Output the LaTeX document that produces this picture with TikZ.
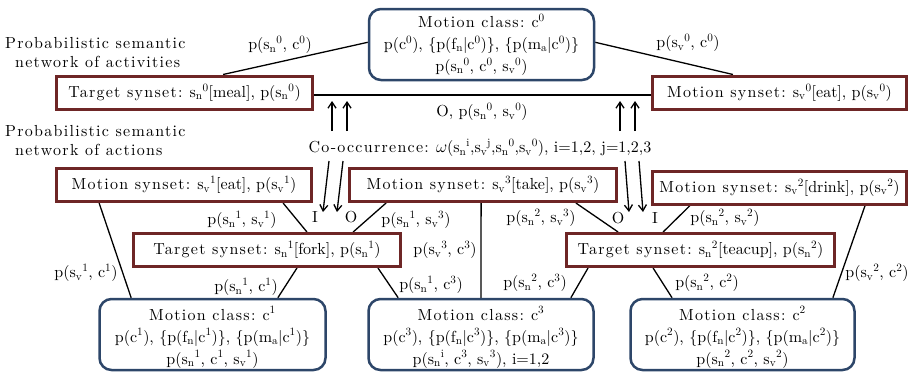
\documentclass[tikz,border=0pt]{standalone}
\usepackage{fontspec}
\setmainfont{lmroman10-regular.otf}
\usetikzlibrary{arrows.meta,calc}
\definecolor{synred}{RGB}{110,38,38}
\definecolor{clsblue}{RGB}{45,70,105}
\newcommand\Sn[1]{s\textsubscript{n}\textsuperscript{#1}}
\newcommand\Sv[1]{s\textsubscript{v}\textsuperscript{#1}}
\newcommand\Cc[1]{c\textsuperscript{#1}}
\newcommand\Wd[1]{{\addfontfeature{LetterSpace=8}#1}}
\pgfdeclarelayer{paper}
\pgfdeclarelayer{bg}
\pgfsetlayers{paper,bg,main}
\begin{document}
\begin{tikzpicture}[x=1pt,y=-1pt,
  font=\fontsize{16}{22}\selectfont,
  synbox/.style={draw=synred, line width=3pt, inner sep=0pt, fill=white, minimum height=33pt},
  clsbox/.style={draw=clsblue, line width=2.5pt, rounded corners=12pt, inner sep=0pt, align=center, fill=white, minimum height=71pt},
  lbl/.style={inner sep=0pt},
  conn/.style={line width=1.3pt},
  arr/.style={line width=1.3pt, -{Straight Barb[length=6pt,width=8pt]}}]
\begin{pgfonlayer}{paper}
\fill[white] (0,0) rectangle (918,376);
\end{pgfonlayer}
\useasboundingbox (0,0) rectangle (918,376);

% activity level
\node[clsbox, minimum width=225pt] (c0) at (481.5,44.5)
  {\Wd{Motion class:} \Cc{0}\\p(\Cc{0}), \{p(f\textsubscript{n}|\Cc{0})\}, \{p(m\textsubscript{a}|\Cc{0})\}\\p(\Sn{0}, \Cc{0}, \Sv{0})};
\node[synbox, minimum width=256pt] (tn0) at (184.5,92.5) {\Wd{Target synset:} \Sn{0}[meal], p(\Sn{0})};
\node[synbox, minimum width=254pt] (sv0) at (779.5,92.5) {\Wd{Motion synset:} \Sv{0}[eat], p(\Sv{0})};

\node[lbl, anchor=west, align=left, font=\fontsize{16}{19}\selectfont] (pa) at (5,53)
  {\Wd{Probabilistic semantic}\\\hspace*{10pt}\Wd{network of activities}};
\node[lbl, anchor=west, align=left, font=\fontsize{16}{19}\selectfont] (pb) at (5,141)
  {\Wd{Probabilistic semantic}\\\hspace*{10pt}\Wd{network of actions}};

\node[lbl] (l0a) at (280,45) {p(\Sn{0}, \Cc{0})};
\node[lbl] (l0b) at (688,43) {p(\Sv{0}, \Cc{0})};
\node[lbl] (l0c) at (482,112) {O, p(\Sn{0}, \Sv{0})};
\node[lbl] (cooc) at (480,148)
  {\Wd{Co-occurrence:} $\omega$(\Sn{i},\Sv{j},\Sn{0},\Sv{0}), i=1,2, j=1,2,3};

% action level
\node[synbox, minimum width=255pt] (sv1) at (184,185) {\Wd{Motion synset:} \Sv{1}[eat], p(\Sv{1})};
\node[synbox, minimum width=267pt] (sv3) at (483,185) {\Wd{Motion synset:} \Sv{3}[take], p(\Sv{3})};
\node[synbox, minimum width=254pt] (sv2) at (779.5,187.5) {\Wd{Motion synset:} \Sv{2}[drink], p(\Sv{2})};
\node[synbox, minimum width=267pt] (tn1) at (267,250) {\Wd{Target synset:} \Sn{1}[fork], p(\Sn{1})};
\node[synbox, minimum width=268pt] (tn2) at (700.5,250) {\Wd{Target synset:} \Sn{2}[teacup], p(\Sn{2})};

\node[clsbox, minimum width=226pt] (c1) at (212.5,334.5)
  {\rule{0pt}{19pt}\Wd{Motion class:} \Cc{1}\\p(\Cc{1}), \{p(f\textsubscript{n}|\Cc{1})\}, \{p(m\textsubscript{a}|\Cc{1})\}\\p(\Sn{1}, \Cc{1}, \Sv{1})};
\node[clsbox, minimum width=225pt] (c3) at (481,334.5)
  {\rule{0pt}{19pt}\Wd{Motion class:} \Cc{3}\\p(\Cc{3}), \{p(f\textsubscript{n}|\Cc{3})\}, \{p(m\textsubscript{a}|\Cc{3})\}\\p(\Sn{i}, \Cc{3}, \Sv{3}), i=1,2};
\node[clsbox, minimum width=224pt] (c2) at (742.5,334.5)
  {\rule{0pt}{19pt}\Wd{Motion class:} \Cc{2}\\p(\Cc{2}), \{p(f\textsubscript{n}|\Cc{2})\}, \{p(m\textsubscript{a}|\Cc{2})\}\\p(\Sn{2}, \Cc{2}, \Sv{2})};

\node[lbl] (la) at (242,220) {p(\Sn{1}, \Sv{1})};
\node[lbl] (lb) at (416,220) {p(\Sn{1}, \Sv{3})};
\node[lbl] (lc) at (445,250) {p(\Sv{3}, \Cc{3})};
\node[lbl] (ld) at (431,285) {p(\Sn{1}, \Cc{3})};
\node[lbl] (le) at (246,287) {p(\Sn{1}, \Cc{1})};
\node[lbl] (lf) at (86,273) {p(\Sv{1}, \Cc{1})};
\node[lbl] (lg) at (541,218) {p(\Sn{2}, \Sv{3})};
\node[lbl] (lh) at (725,218) {p(\Sn{2}, \Sv{2})};
\node[lbl] (li) at (535,283) {p(\Sn{2}, \Cc{3})};
\node[lbl] (lj) at (707,283) {p(\Sn{2}, \Cc{2})};
\node[lbl] (lk) at (877,273) {p(\Sv{2}, \Cc{2})};

\node[lbl] (i1) at (315,217) {I};
\node[lbl] (o1) at (351,217) {O};
\node[lbl] (o2) at (618,218) {O};
\node[lbl] (i2) at (655,218) {I};

% arrow end points
\coordinate (u1s) at (332,131); \coordinate (u1e) at (332,101);
\coordinate (u2s) at (347,131); \coordinate (u2e) at (347,101);
\coordinate (u3s) at (620,131); \coordinate (u3e) at (620,101);
\coordinate (u4s) at (635,131); \coordinate (u4e) at (635,101);
\coordinate (d1s) at (329,161); \coordinate (d1e) at (323,212);
\coordinate (d2s) at (343,161); \coordinate (d2e) at (337,212);
\coordinate (d3s) at (625,161); \coordinate (d3e) at (629,212);
\coordinate (d4s) at (639,161); \coordinate (d4e) at (643,212);

\begin{pgfonlayer}{bg}
\draw[conn] ($(c0.north west)!0.47!(c0.south west)$) -- ($(tn0.north west)!0.649!(tn0.north east)$);
\draw[conn] ($(c0.north east)!0.47!(c0.south east)$) -- ($(sv0.north west)!0.319!(sv0.north east)$);
\draw[conn] ($(tn0.north east)!0.57!(tn0.south east)$) -- ($(sv0.north west)!0.57!(sv0.south west)$);

\draw[conn] ($(sv1.south west)!0.171!(sv1.south east)$) -- ($(c1.north west)!0.144!(c1.north east)$);
\draw[conn] ($(sv1.south west)!0.884!(sv1.south east)$) -- ($(tn1.north west)!0.648!(tn1.north east)$);
\draw[conn] ($(sv3.south west)!0.141!(sv3.south east)$) -- ($(tn1.north west)!0.819!(tn1.north east)$);
\draw[conn] ($(tn1.south west)!0.911!(tn1.south east)$) -- ($(c3.north west)!0.136!(c3.north east)$);
\draw[conn] ($(sv3.south west)!0.493!(sv3.south east)$) -- ($(c3.north west)!0.5!(c3.north east)$);
\draw[conn] ($(sv3.south west)!0.844!(sv3.south east)$) -- ($(tn2.north west)!0.196!(tn2.north east)$);
\draw[conn] ($(sv2.south west)!0.152!(sv2.south east)$) -- ($(tn2.north west)!0.362!(tn2.north east)$);
\draw[conn] ($(sv2.south west)!0.833!(sv2.south east)$) -- ($(c2.north west)!0.899!(c2.north east)$);
\draw[conn] ($(tn2.south west)!0.085!(tn2.south east)$) -- ($(c3.north west)!0.895!(c3.north east)$);
\draw[conn] ($(tn2.south west)!0.325!(tn2.south east)$) -- ($(c2.north west)!0.189!(c2.north east)$);
\draw[conn] ($(tn1.south west)!0.611!(tn1.south east)$) -- ($(c1.north west)!0.786!(c1.north east)$);
\end{pgfonlayer}

\draw[arr] (u1s) -- (u1e);
\draw[arr] (u2s) -- (u2e);
\draw[arr] (u3s) -- (u3e);
\draw[arr] (u4s) -- (u4e);
\draw[arr] (d1s) -- (d1e);
\draw[arr] (d2s) -- (d2e);
\draw[arr] (d3s) -- (d3e);
\draw[arr] (d4s) -- (d4e);
\end{tikzpicture}
\end{document}
